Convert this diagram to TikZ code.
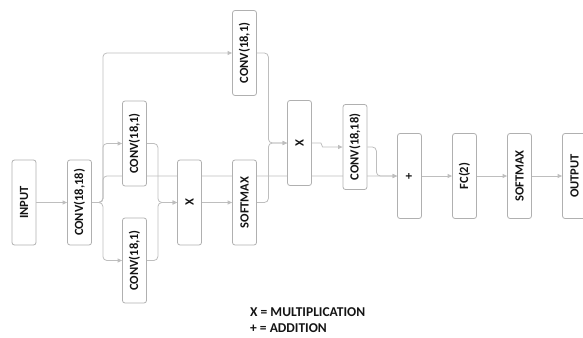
\documentclass[tikz,border=0pt]{standalone}
\usepackage{fontspec}
\setmainfont{Carlito}
\usetikzlibrary{arrows.meta,backgrounds,calc}
\definecolor{boxline}{RGB}{176,176,176}
\definecolor{conn}{RGB}{190,190,190}
\definecolor{txt}{RGB}{20,20,20}
\begin{document}
\begin{tikzpicture}[x=1pt,y=-1pt,
  blk/.style={draw=boxline,line width=0.8pt,fill=white,rounded corners=2.5pt,
    minimum width=24pt,minimum height=85pt,inner sep=0pt,text=txt,
    font=\fontsize{12.5}{13}\selectfont\bfseries},
  link/.style={draw=conn,line width=0.8pt,rounded corners=4pt},
  arr/.style={link,-{Triangle[width=4pt,length=4.5pt]}},
  legend/.style={font=\fontsize{13.5}{14}\selectfont\bfseries,text=txt,inner sep=0pt,anchor=west}
]
\useasboundingbox (0,0) rectangle (583,337);
\node[blk] (in)   at (24,202.5)    {\rotatebox{90}{INPUT}};
\node[blk] (c1)   at (79.5,202.5)  {\rotatebox{90}{CONV(18,18)}};
\node[blk] (ca)   at (134.5,143.5) {\rotatebox{90}{CONV(18,1)}};
\node[blk] (cb)   at (134.5,260.5) {\rotatebox{90}{CONV(18,1)}};
\node[blk] (x1)   at (189.5,202.5) {\rotatebox{90}{X}};
\node[blk] (sm1)  at (244.5,202.5) {\rotatebox{90}{SOFTMAX}};
\node[blk] (ct)   at (244.5,53)    {\rotatebox{90}{CONV(18,1)}};
\node[blk] (x2)   at (299.5,143)   {\rotatebox{90}{X}};
\node[blk] (c2)   at (355,147)     {\rotatebox{90}{CONV(18,18)}};
\node[blk] (plus) at (409.5,176)   {\rotatebox{90}{+}};
\node[blk] (fc)   at (464.5,176)   {\rotatebox{90}{FC(2)}};
\node[blk] (sm2)  at (519.5,176)   {\rotatebox{90}{SOFTMAX}};
\node[blk] (out)  at (574.5,176)   {\rotatebox{90}{OUTPUT}};
\node[legend] (l1) at (250,312) {X = MULTIPLICATION};
\node[legend] (l2) at (250,328.5) {+ = ADDITION};
\begin{scope}[on background layer]
\draw[arr] (in.east) -- (c1.west);
\draw[arr] (c1.east) -- ++(11,0) |- (ct.west);
\draw[arr] (c1.east) -- ++(11,0) |- (ca.west);
\draw[arr] (c1.east) -- ++(11,0) |- (cb.west);
\draw[arr] (c1.east) -- ++(11,0) |- (plus.west);
\draw[arr] (ca.east) -- ++(11,0) |- (x1.west);
\draw[arr] (cb.east) -- ++(11,0) |- (x1.west);
\draw[arr] (x1.east) -- (sm1.west);
\draw[arr] (sm1.east) -- ++(11.5,0) |- (x2.west);
\draw[arr] (ct.east) -- ++(11.5,0) |- (x2.west);
\draw[arr] (x2.east) -- ++(5,0) to[out=0,in=180] ($(c2.west)+(-16,0)$) -- (c2.west);
\draw[arr] (c2.east) -- ++(9,0) |- (plus.west);
\draw[arr] (plus.east) -- (fc.west);
\draw[arr] (fc.east) -- (sm2.west);
\draw[arr] (sm2.east) -- (out.west);
\end{scope}
\end{tikzpicture}
\end{document}
